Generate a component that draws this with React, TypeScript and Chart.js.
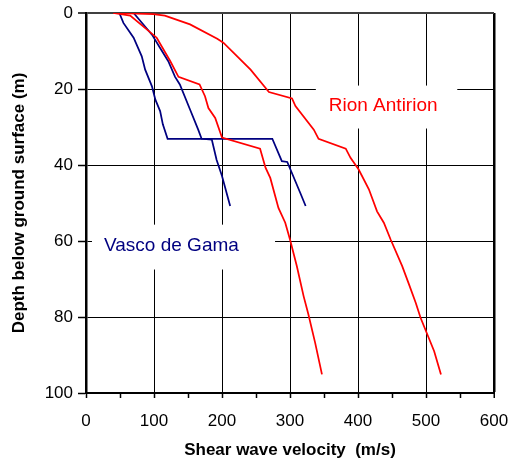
import React, { useEffect, useRef } from "react";
import { Chart, registerables } from "chart.js";

Chart.register(...registerables);

// Rion Antirion – outer profile
const rionAVelocity = [40, 99, 116, 153, 193, 202, 242, 269, 303, 308, 335, 342, 382, 389, 401, 416, 428, 438, 448, 465, 475, 485, 492, 502, 512, 522];
const rionADepth = [0, 0.3, 0.7, 3, 6.8, 7.8, 14.9, 20.8, 22.5, 24.5, 30.7, 33.1, 35.7, 38.1, 41.2, 46.4, 52.2, 55.2, 59.6, 66.6, 71.4, 76.3, 80.2, 84.6, 89, 95.1];

// Rion Antirion – inner profile
const rionBVelocity = [40, 65, 104, 124, 136, 167, 175, 180, 190, 200, 256, 264, 271, 283, 293, 300, 310, 320, 327, 337, 347];
const rionBDepth = [0, 0.7, 6.5, 12.7, 16.8, 18.8, 21.9, 25, 27.6, 32.8, 35.7, 40.7, 43.4, 51.3, 55.2, 59.6, 66.6, 74.5, 79.3, 86.8, 95.1];

// Vasco de Gama – profile 1
const vascoAVelocity = [49, 55, 70, 82, 87, 97, 102, 109, 113, 120, 274, 288, 296, 315, 323];
const vascoADepth = [0, 2.6, 6.5, 11.4, 14.9, 19.3, 22.8, 25.8, 29.3, 33.1, 33.1, 39, 39.2, 47.3, 50.8];

// Vasco de Gama – profile 2
const vascoBVelocity = [70, 97, 109, 121, 131, 138, 153, 165, 170, 185, 192, 200, 212];
const vascoBDepth = [0, 5.7, 9.2, 12.7, 16.8, 18.8, 25.4, 30.7, 33.1, 33.3, 38.6, 42.9, 50.8];

const xTickLabels = ["0", "100", "200", "300", "400", "500", "600"];
const yTickLabels = ["0", "20", "40", "60", "80", "100"];

const RED = "#ff0000";
const BLUE = "#000080";
const FONT = "'Liberation Sans', Arial, Helvetica, sans-serif";

const toPoints = (xs: number[], ys: number[]) => xs.map((x, i) => ({ x, y: ys[i] }));

// Annotation labels (data coordinates)
const annotations = [
  { text: "Rion Antirion", color: RED, x: 357, y: 25.7, box: [338, 546, 19.1, 30.4] },
  { text: "Vasco de Gama", color: BLUE, x: 26.5, y: 62.7, box: [8.8, 278, 55.7, 67.5] },
];

const labelPlugin = {
  id: "siteLabels",
  beforeDatasetsDraw(chart: any) {
    const { ctx, scales } = chart;
    const xs = scales.x;
    const ys = scales.y;
    ctx.save();
    for (const a of annotations) {
      const x0 = xs.getPixelForValue(a.box[0]);
      const x1 = xs.getPixelForValue(a.box[1]);
      const y0 = ys.getPixelForValue(a.box[2]);
      const y1 = ys.getPixelForValue(a.box[3]);
      ctx.fillStyle = "#ffffff";
      ctx.fillRect(x0, y0, x1 - x0, y1 - y0);
      ctx.fillStyle = a.color;
      ctx.font = `19px ${FONT}`;
      ctx.textAlign = "left";
      ctx.textBaseline = "alphabetic";
      ctx.fillText(a.text, xs.getPixelForValue(a.x), ys.getPixelForValue(a.y));
    }
    ctx.restore();
  },
};

export default function App() {
  const ref = useRef<HTMLCanvasElement | null>(null);

  useEffect(() => {
    document.body.style.margin = "0";
    if (!ref.current) return;
    const mk = (label: string, xs: number[], ys: number[], color: string) => ({
      label,
      data: toPoints(xs, ys),
      borderColor: color,
      backgroundColor: color,
      borderWidth: 1.75,
      pointRadius: 0,
      showLine: true,
      fill: false,
      tension: 0,
    });
    const chart = new Chart(ref.current, {
      type: "scatter",
      data: {
        datasets: [
          mk("Rion Antirion A", rionAVelocity, rionADepth, RED),
          mk("Rion Antirion B", rionBVelocity, rionBDepth, RED),
          mk("Vasco de Gama A", vascoAVelocity, vascoADepth, BLUE),
          mk("Vasco de Gama B", vascoBVelocity, vascoBDepth, BLUE),
        ],
      },
      options: {
        responsive: false,
        animation: false,
        layout: { padding: { top: 13, right: 16, left: 0, bottom: 0 } },
        plugins: { legend: { display: false }, tooltip: { enabled: false } },
        scales: {
          x: {
            type: "linear",
            min: 0,
            max: 600,
            afterFit: (s: any) => {
              s.height = 74;
              s.paddingLeft = 0;
              s.paddingRight = 0;
            },
            ticks: {
              stepSize: 50,
              autoSkip: false,
              maxRotation: 0,
              padding: 13,
              color: "#000",
              font: { family: FONT, size: 17 },
              callback: (v: any) => {
                const i = xTickLabels.indexOf(String(v));
                return i >= 0 ? xTickLabels[i] : "";
              },
            },
            grid: {
              color: (c: any) => (c.tick && c.tick.value % 100 === 0 ? "#000" : "rgba(0,0,0,0)"),
              lineWidth: (c: any) => (c.tick && c.tick.value === 600 ? 2.5 : 1),
              tickColor: "#000",
              tickLength: 5,
              tickWidth: 1.5,
            },
            border: { display: true, color: "#000", width: 2 },
            title: {
              display: true,
              text: "Shear wave velocity  (m/s)",
              color: "#000",
              font: { family: FONT, size: 17, weight: "bold" },
              padding: { top: 0, bottom: 6 },
            },
          },
          y: {
            type: "linear",
            reverse: true,
            min: 0,
            max: 100,
            afterFit: (s: any) => {
              s.width = 86;
              s.paddingTop = 0;
              s.paddingBottom = 0;
            },
            ticks: {
              stepSize: 20,
              padding: 5,
              color: "#000",
              font: { family: FONT, size: 17 },
              callback: (v: any) => {
                const i = yTickLabels.indexOf(String(v));
                return i >= 0 ? yTickLabels[i] : "";
              },
            },
            grid: {
              color: (c: any) => (c.tick && c.tick.value === 0 ? "#404040" : "#000"),
              lineWidth: (c: any) => (c.tick && c.tick.value === 0 ? 2 : 1),
              tickColor: "#000",
              tickLength: 8,
              tickWidth: 1.5,
            },
            border: { display: true, color: "#000", width: 2.5 },
            title: {
              display: true,
              text: "Depth below ground surface (m)",
              color: "#000",
              font: { family: FONT, size: 17, weight: "bold" },
              padding: { top: 9, bottom: 0 },
            },
          },
        },
      },
      plugins: [labelPlugin],
    });
    return () => chart.destroy();
  }, []);

  return (
    <div style={{ position: "absolute", left: 0, top: 0, width: 510, height: 467 }}>
      <canvas ref={ref} width={510} height={467} style={{ width: 510, height: 467 }} />
    </div>
  );
}
